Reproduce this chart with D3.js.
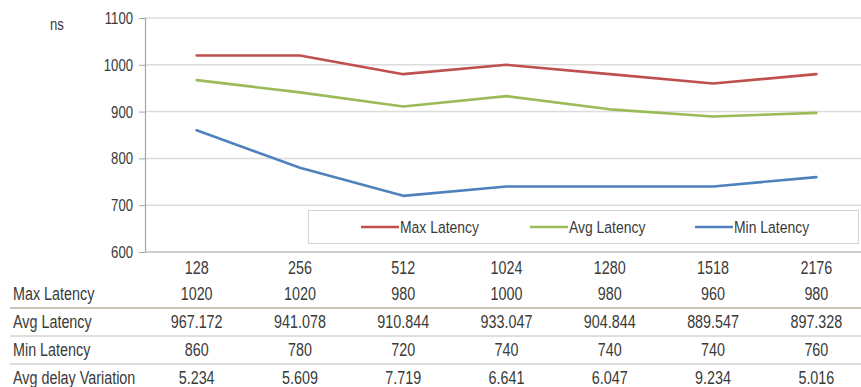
<!DOCTYPE html>
<html><head><meta charset="utf-8">
<script src="https://cdn.jsdelivr.net/npm/d3@7"></script>
<style>
html,body{margin:0;padding:0;background:#fff;}
svg{display:block;}
text{font-family:"Liberation Sans",Arial,sans-serif;fill:#3a3a3a;}
</style></head>
<body>
<svg id="c" width="861" height="387"></svg>
<script>
const categories = ["128","256","512","1024","1280","1518","2176"];
const maxLatency = [1020,1020,980,1000,980,960,980];
const avgLatency = [967.172,941.078,910.844,933.047,904.844,889.547,897.328];
const minLatency = [860,780,720,740,740,740,760];
const delayVariation = [5.234,5.609,7.719,6.641,6.047,9.234,5.016];
const yTicks = [600,700,800,900,1000,1100];
const seriesNames = ["Max Latency","Avg Latency","Min Latency"];
const seriesColors = ["#C0504D","#9BBB59","#4F81BD"];

const K = 0.82; // horizontal condensing of text
function condense(sel){
  sel.each(function(){
    const t = d3.select(this);
    const x = +t.attr("x") || 0, y = +t.attr("y") || 0;
    const prev = t.attr("transform") || "";
    t.attr("x",0).attr("y",0).attr("transform",`${prev} translate(${x},${y}) scale(${K},1)`);
  });
}

const svg = d3.select("#c");
const x = d3.scaleBand().domain(categories).range([145, 868]);
const y = d3.scaleLinear().domain([600,1100]).range([252, 18]);
const cx = c => x(c) + x.bandwidth()/2;

// gridlines
svg.append("g").selectAll("line").data(yTicks.slice(1)).join("line")
  .attr("x1",145).attr("x2",861).attr("y1",d=>y(d)).attr("y2",d=>y(d))
  .attr("stroke","#dcdcdc").attr("stroke-width",1.5);

// y axis
const yAxis = svg.append("g").attr("transform","translate(145,0)")
  .call(d3.axisLeft(y).tickValues(yTicks).tickSize(6).tickPadding(6).tickFormat(d3.format("d")));
yAxis.select(".domain").attr("stroke","#a6a6a6").attr("stroke-width",1.2);
yAxis.selectAll(".tick line").attr("stroke","#a6a6a6");
yAxis.selectAll(".tick text").style("font-size","16px").attr("fill","#3a3a3a")
  .style("font-family",'"Liberation Sans",Arial,sans-serif')
  .attr("dy",null).attr("dominant-baseline","central").call(condense);

// baseline across
svg.append("line").attr("x1",145).attr("x2",861).attr("y1",y(600)).attr("y2",y(600))
  .attr("stroke","#bcbcbc").attr("stroke-width",1.5);

svg.append("text").attr("x",50).attr("y",25).attr("dominant-baseline","central")
  .style("font-size","16px").text("ns").call(condense);

// lines
const seriesData = [maxLatency, avgLatency, minLatency];
const line = d3.line().x((d,i)=>cx(categories[i])).y(d=>y(d)).curve(d3.curveLinear);
svg.append("g").selectAll("path").data(seriesData).join("path")
  .attr("d",line).attr("fill","none")
  .attr("stroke",(d,i)=>seriesColors[i]).attr("stroke-width",2.6)
  .attr("stroke-linejoin","round").attr("stroke-linecap","round");

// legend
svg.append("rect").attr("x",308.5).attr("y",210.5).attr("width",550).attr("height",33)
  .attr("fill","#fff").attr("stroke","#d4d4d4").attr("stroke-width",1);
const legX = [361, 530, 695];
const lg = svg.append("g").selectAll("g").data(seriesNames).join("g")
  .attr("transform",(d,i)=>`translate(${legX[i]},227)`);
lg.append("line").attr("x1",0).attr("x2",38).attr("y1",0).attr("y2",0)
  .attr("stroke",(d,i)=>seriesColors[i]).attr("stroke-width",2.6);
lg.append("text").attr("x",39).attr("y",0).attr("dominant-baseline","central")
  .style("font-size","17px").text(d=>d).call(condense);

// table
const fmt3 = d3.format(".3f");
const rows = [
  {label:"", vals:categories, y:268},
  {label:"Max Latency", vals:maxLatency.map(String), y:294},
  {label:"Avg Latency", vals:avgLatency.map(fmt3), y:322},
  {label:"Min Latency", vals:minLatency.map(String), y:350},
  {label:"Avg delay Variation", vals:delayVariation.map(fmt3), y:378}
];
const seps = [{y:308,c:"#c9c2b6"},{y:336,c:"#dedede"},{y:364,c:"#dedede"}];
svg.append("g").selectAll("line").data(seps).join("line")
  .attr("x1",10).attr("x2",861).attr("y1",d=>d.y).attr("y2",d=>d.y)
  .attr("stroke",d=>d.c).attr("stroke-width",2);
const rg = svg.append("g").selectAll("g").data(rows).join("g");
rg.append("text").attr("x",13).attr("y",d=>d.y).attr("dominant-baseline","central")
  .style("font-size","17.5px").text(d=>d.label).call(condense);
rg.selectAll("text.v").data(d=>d.vals.map((v,i)=>({v,i,y:d.y}))).join("text")
  .attr("class","v").attr("x",d=>cx(categories[d.i])).attr("y",d=>d.y)
  .attr("text-anchor","middle").attr("dominant-baseline","central")
  .style("font-size","17.5px").text(d=>d.v).call(condense);
</script>
</body></html>
